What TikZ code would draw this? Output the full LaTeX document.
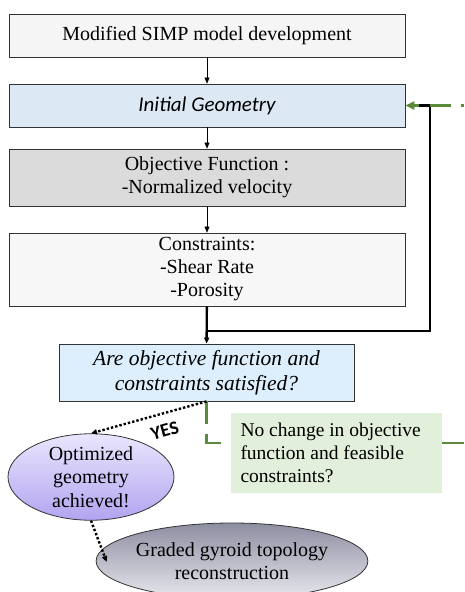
\documentclass[tikz,border=0pt]{standalone}
\usepackage{fontspec}
\setmainfont{Liberation Serif}
\newfontfamily\carlito{Carlito}
\usetikzlibrary{arrows.meta,calc,shapes.geometric}
\definecolor{gline}{HTML}{5A8A3A}
\definecolor{geoblue}{HTML}{DDE8F5}
\definecolor{askblue}{HTML}{DDEFFC}
\definecolor{nogreen}{HTML}{E2EFDA}
\definecolor{lilactop}{HTML}{EAE6FD}
\definecolor{lilacbot}{HTML}{B2A4F0}
\definecolor{greytop}{HTML}{8E8EA2}
\definecolor{greybot}{HTML}{E8E8EE}
\begin{document}
\begin{tikzpicture}
[   x=1pt,y=-1pt,
    sbox/.style={draw=black!80,line width=0.8pt,fill=#1,minimum width=396pt,minimum height=43pt,
        align=center,inner sep=0pt,font=\fontsize{20}{23}\selectfont},
    enode/.style={draw=black!80,line width=0.8pt,ellipse,inner sep=0pt,align=center,
        font=\fontsize{20}{23.5}\selectfont},
    arr/.style={-{Triangle[length=6pt,width=5pt]}},
    thk/.style={line width=2.4pt},
    gdash/.style={draw=gline,line width=2.2pt,dash pattern=on 21pt off 10pt},
]
    \useasboundingbox (0,0) rectangle (464,592);
    \node[sbox=black!4] (b1) at (207,35.5) {Modified SIMP model development};
    \node[sbox=geoblue,font={\fontsize{21}{23}\carlito\itshape}] (b2) at (207,105.5) {Initial Geometry};
    \node[sbox=black!14,minimum height=57pt] (b3) at (207,177.5) {Objective Function :\\-Normalized velocity};
    \node[sbox=black!3,minimum height=73pt] (b4) at (207,269.5) {Constraints:\\-Shear Rate\\-Porosity};
    \node[sbox=askblue,minimum width=295pt,minimum height=57pt,
        font=\fontsize{21.5}{25}\selectfont\itshape] (b5) at (206.5,372.5) {Are objective function and\\constraints satisfied?};
    \node[fill=nogreen,minimum width=211pt,minimum height=80pt,
        text width=191pt,align=flush left,inner xsep=10pt,inner ysep=0pt,font=\fontsize{19.5}{23}\selectfont] (gb) at (336,453)
        {No change in objective\\function and feasible\\constraints?};
    \node[enode,minimum width=166pt,minimum height=77pt,top color=lilactop,bottom color=lilacbot] (e1) at (91,477)
        {Optimized\\geometry\\achieved!};
    \node[enode,minimum width=230pt,minimum height=76pt,top color=greytop,bottom color=greybot] (e2) at (232,561)
        {Graded gyroid topology\\reconstruction};
    % main chain
    \draw[arr] (b1) -- (b2);
    \draw[arr] (b2) -- (b3);
    \draw[arr] (b3) -- (b4);
    \draw[thk,arr] (b4) -- (b5);
    % feedback loop
    \coordinate (join) at (207,331);
    \coordinate (loop) at (430,105.5);
    \coordinate (gin) at (464,105.5);
    \coordinate (gout) at (464,443);
    \coordinate (gturn) at (223,443);
    \draw[thk] (join) -| (loop) -- ($(b2.east)+(12,0)$);
    \draw[gdash] (loop) -- (gin);
    \draw[draw=gline,line width=2.2pt,-{Triangle[length=9pt,width=8pt]}] ($(b2.east)+(14,0)$) -- (b2.east);
    \draw[gdash,dash pattern=on 23pt off 10pt] (b5.south) |- (gturn);
    \draw[draw=gline,line width=2.2pt] ($(gb.east)+(0,-10)$) -- (gout);
    % outcome
    \draw[line width=2.4pt,dotted,arr] (b5.south) -- node[sloped,below=6pt,pos=0.4,font=\fontsize{19}{19}\carlito\bfseries] {YES} (e1.north);
    \draw[line width=2.4pt,dotted,arr] (e1.south) -- ($(e2.west)+(11,1)$);
\end{tikzpicture}
\end{document}
